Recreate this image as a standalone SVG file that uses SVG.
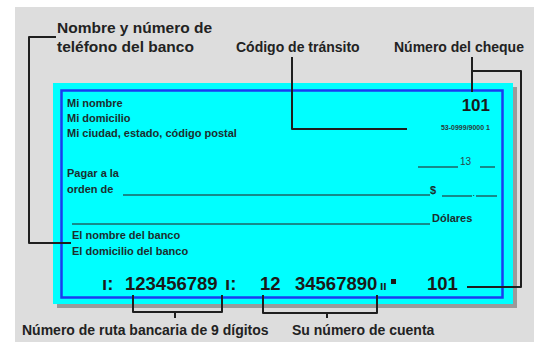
<svg xmlns="http://www.w3.org/2000/svg" width="540" height="349" viewBox="0 0 540 349">
<style>
.lbl{font-family:"Liberation Sans",Arial,sans-serif;font-weight:bold;font-size:14px;fill:#222}
.ck{font-family:"Liberation Sans",Arial,sans-serif;font-weight:bold;font-size:11px;fill:#1c2e2e}
.micr{font-family:"Liberation Sans",Arial,sans-serif;font-weight:bold;font-size:18.5px;fill:#1a1a1a}
.ln{stroke:#1e6464;stroke-width:1.5;fill:none}
.con{stroke:#1e1e1e;stroke-width:2;fill:none;stroke-linejoin:round}
</style>
<rect x="0" y="0" width="540" height="349" fill="#ffffff"/>
<rect x="15" y="7" width="519" height="335" fill="#dddddd"/>
<g id="check">
<rect x="57" y="87" width="460" height="221" fill="#9a9a9a"/>
<rect x="53" y="83" width="460" height="221" fill="#00ffff"/>
<rect x="61.5" y="90.5" width="441" height="207" fill="none" stroke="#1a3cf0" stroke-width="2.5"/>
<text class="ck" x="67" y="107">Mi nombre</text>
<text class="ck" x="67" y="122">Mi domicilio</text>
<text class="ck" x="67" y="137">Mi ciudad, estado, código postal</text>
<text x="490" y="111" text-anchor="end" style="font-family:'Liberation Sans',Arial,sans-serif;font-weight:bold;font-size:17px;fill:#1a1a1a">101</text>
<text x="490" y="130" text-anchor="end" style="font-family:'Liberation Sans',Arial,sans-serif;font-weight:bold;font-size:7px;fill:#2a3a3a">53-0999/9000 1</text>
<path class="ln" d="M418,167 H458 M480,167 H495"/>
<text x="460" y="165" style="font-family:'Liberation Sans',Arial,sans-serif;font-size:10px;fill:#2a4a4a">13</text>
<text class="ck" x="67" y="177">Pagar a la</text>
<text class="ck" x="67" y="193">orden de</text>
<path class="ln" d="M123,195 H430 M442,196 H472 M476,196 H497"/>
<text class="ck" x="430" y="194">$</text>
<text x="472.5" y="196" style="font-family:'Liberation Sans',Arial,sans-serif;font-size:9px;fill:#1c2e2e">.</text>
<path class="ln" d="M72,224 H430"/>
<text class="ck" x="432" y="222">Dólares</text>
<text class="ck" x="72" y="239">El nombre del banco</text>
<text class="ck" x="72" y="255">El domicilio del banco</text>
<text class="micr" x="102" y="290">ı:</text>
<text class="micr" x="125" y="290">123456789</text>
<text class="micr" x="225" y="290">ı:</text>
<text class="micr" x="260" y="290">12</text>
<text class="micr" x="295" y="290">34567890</text>
<text class="micr" x="380" y="290" style="font-size:12px">ıı</text>
<rect x="391" y="279" width="5" height="5" fill="#1a1a1a"/>
<text class="micr" x="427" y="290">101</text>
</g>
<g id="connectors">
<path class="con" d="M56,37 H29 V243 H71"/>
<path class="con" d="M292,57 V129 H407"/>
<path class="con" d="M472,57 V92 M472,71 H521 V287 H467"/>
<path class="con" d="M133,295 V312 H222 V295 M175,312 V318"/>
<path class="con" d="M263,295 V313 H377 V295 M327,313 V318"/>
</g>
<g id="labels">
<text class="lbl" x="57" y="33" style="font-size:15.5px">Nombre y número de</text>
<text class="lbl" x="57" y="52" style="font-size:15.5px">teléfono del banco</text>
<text class="lbl" x="236" y="52">Código de tránsito</text>
<text class="lbl" x="394" y="52">Número del cheque</text>
<text class="lbl" x="22" y="335">Número de ruta bancaria de 9 dígitos</text>
<text class="lbl" x="292" y="335">Su número de cuenta</text>
</g>
</svg>
